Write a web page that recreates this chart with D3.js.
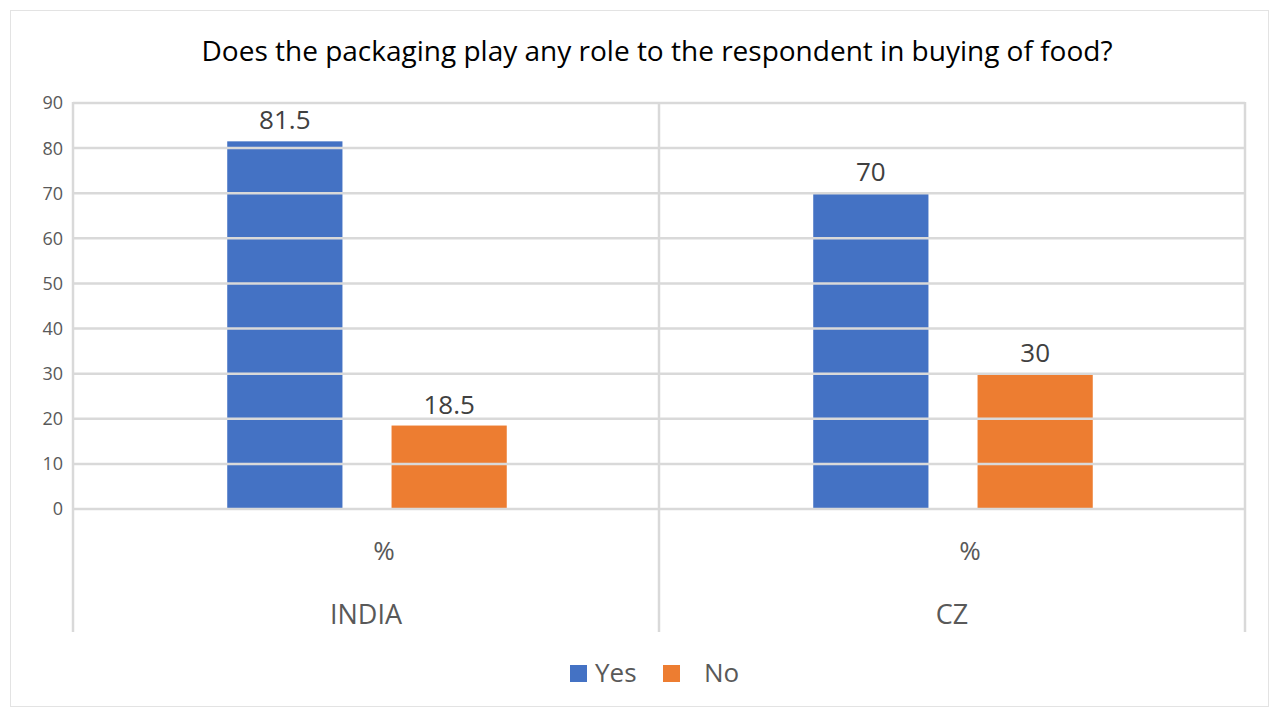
<!DOCTYPE html>
<html>
<head>
<meta charset="utf-8">
<title>Packaging role</title>
<style>
  * { margin: 0; padding: 0; }
  body { background: #fff; }
  svg text { font-family: "Open Sans", "Noto Sans", sans-serif; }
</style>
</head>
<body>
<svg id="chart" width="1270" height="709"></svg>
<script src="https://cdn.jsdelivr.net/npm/d3@7"></script>
<script>
const titleText = "Does the packaging play any role to the respondent in buying of food?";
const categories = ["INDIA", "CZ"];
const subLabels = ["%", "%"];
const seriesNames = ["Yes", "No"];
const yesValues = [81.5, 70];
const noValues = [18.5, 30];
const yTicks = [0, 10, 20, 30, 40, 50, 60, 70, 80, 90];
const colors = ["#4472c4", "#ed7d31"];

const svg = d3.select("#chart");
const grid = "#d9d9d9";
const margin = { left: 73, right: 1245, top: 103, bottom: 509 };

// chart frame
svg.append("rect")
  .attr("x", 10.5).attr("y", 10.5)
  .attr("width", 1258).attr("height", 696)
  .attr("fill", "#fff").attr("stroke", "#e3e3e3");

const x = d3.scaleBand().domain(categories).range([margin.left, margin.right]);
// bars sit 154px into each 585px band, 115px wide with a 49px gap
const inner = d3.scaleBand().domain(seriesNames)
  .range([x.bandwidth() * 0.2632, x.bandwidth() * 0.7402])
  .paddingInner(0.2988).paddingOuter(0);
const y = d3.scaleLinear().domain([0, 90]).range([margin.bottom, margin.top]);

// y tick labels
svg.append("g").selectAll("text").data(yTicks).join("text")
  .attr("x", 63).attr("y", d => y(d))
  .attr("dy", "0.36em")
  .attr("text-anchor", "end")
  .attr("font-size", 18).attr("fill", "#595959")
  .text(d => d);

// bars
const rows = categories.map((c, i) => ({ cat: c, vals: [yesValues[i], noValues[i]] }));
const groups = svg.append("g").selectAll("g").data(rows).join("g")
  .attr("transform", d => `translate(${x(d.cat)},0)`);

groups.selectAll("rect").data(d => d.vals.map((v, j) => ({ s: seriesNames[j], v, j }))).join("rect")
  .attr("x", d => inner(d.s))
  .attr("width", inner.bandwidth())
  .attr("y", d => y(d.v))
  .attr("height", d => y(0) - y(d.v))
  .attr("fill", d => colors[d.j]);

// gridlines show through the bars in the reference
svg.append("g").selectAll("line").data(yTicks).join("line")
  .attr("x1", margin.left).attr("x2", margin.right)
  .attr("y1", d => y(d)).attr("y2", d => y(d))
  .attr("stroke", grid).attr("stroke-width", 2.5);

groups.selectAll("text.val").data(d => d.vals.map((v, j) => ({ s: seriesNames[j], v, j }))).join("text")
  .attr("class", "val")
  .attr("x", d => inner(d.s) + inner.bandwidth() / 2)
  .attr("y", d => y(d.v) - 12)
  .attr("text-anchor", "middle")
  .attr("font-size", 26).attr("fill", "#404040")
  .text(d => d.v);

// vertical separators
const seps = [margin.left].concat(categories.map(c => x(c) + x.bandwidth()));
svg.append("g").selectAll("line").data(seps).join("line")
  .attr("x1", d => d).attr("x2", d => d)
  .attr("y1", margin.top - 1).attr("y2", 632)
  .attr("stroke", grid).attr("stroke-width", 2.5);

// category labels
svg.append("g").selectAll("text").data(categories).join("text")
  .attr("x", d => x(d) + x.bandwidth() / 2 + 18).attr("y", 560)
  .attr("text-anchor", "middle").attr("font-size", 26).attr("fill", "#595959")
  .text((d, i) => subLabels[i]);
svg.append("g").selectAll("text").data(categories).join("text")
  .attr("x", d => x(d) + x.bandwidth() / 2).attr("y", 624)
  .attr("text-anchor", "middle").attr("font-size", 27).attr("fill", "#595959")
  .text(d => d);

// title
svg.append("text")
  .attr("x", 657).attr("y", 61)
  .attr("text-anchor", "middle").attr("font-size", 28).attr("fill", "#000")
  .text(titleText);

// legend
const legendX = [570, 663];
const lg = svg.append("g").selectAll("g").data(seriesNames).join("g")
  .attr("transform", (d, i) => `translate(${legendX[i]},665)`);
lg.append("rect").attr("width", 17).attr("height", 17).attr("fill", (d, i) => colors[i]);
lg.append("text").attr("x", (d, i) => i === 0 ? 25 : 41).attr("y", 17)
  .attr("font-size", 26).attr("fill", "#595959").text(d => d);
</script>
</body>
</html>
